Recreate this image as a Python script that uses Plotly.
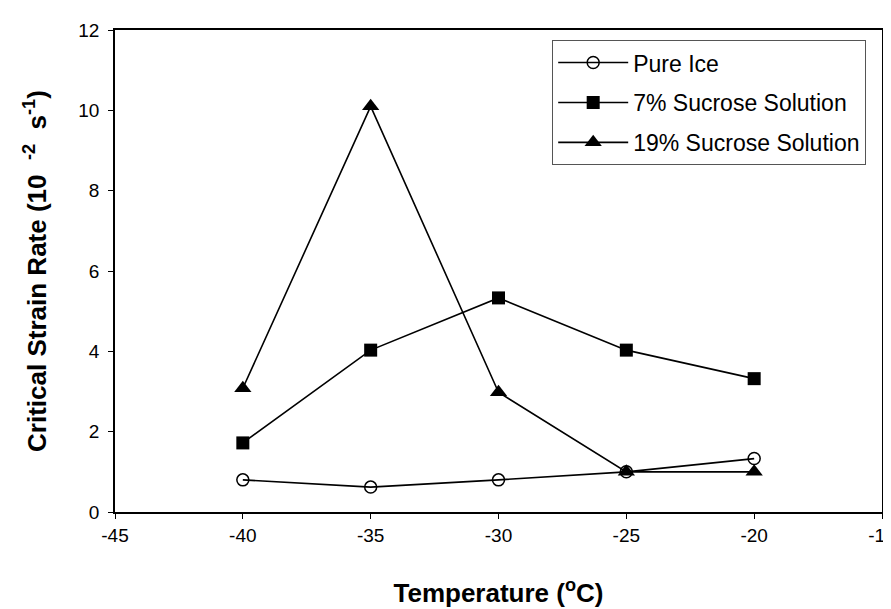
import plotly.graph_objects as go

temps = [-40, -35, -30, -25, -20]
pure_ice = [0.8, 0.62, 0.8, 1.0, 1.33]
sucrose7 = [1.72, 4.03, 5.33, 4.03, 3.32]
sucrose19 = [3.08, 10.1, 2.98, 1.0, 1.0]

x_ticks = [-45, -40, -35, -30, -25, -20, -15]
y_ticks = [0, 2, 4, 6, 8, 10, 12]

FONT = "Liberation Sans, Arial, sans-serif"

fig = go.Figure()
fig.add_trace(go.Scatter(
    x=temps, y=pure_ice, name="Pure Ice", mode="lines+markers",
    line=dict(color="black", width=1.6),
    marker=dict(symbol="circle-open", size=12, color="black", line=dict(width=1.5)),
    legendgroup="a"))
fig.add_trace(go.Scatter(
    x=temps, y=sucrose7, name="7% Sucrose Solution", mode="lines+markers",
    line=dict(color="black", width=1.6),
    marker=dict(symbol="square", size=13, color="black"),
    legendgroup="b"))
fig.add_trace(go.Scatter(
    x=temps, y=sucrose19, name="19% Sucrose Solution", mode="lines+markers",
    line=dict(color="black", width=1.6),
    marker=dict(symbol="triangle-up", size=15, color="black"),
    legendgroup="c"))

fig.update_layout(
    width=891, height=609,
    margin=dict(l=107, r=17, t=22, b=105),
    paper_bgcolor="white", plot_bgcolor="white",
    font=dict(family=FONT, size=19, color="black"),
    showlegend=True,
    legend=dict(
        x=0.57, y=0.979, xanchor="left", yanchor="top",
        bordercolor="#555555", borderwidth=1, bgcolor="white",
        font=dict(size=23, family=FONT),
        traceorder="grouped", tracegroupgap=7, itemwidth=70,
    ),
    xaxis=dict(
        range=[-45, -15], tickvals=x_ticks, ticktext=[str(v) for v in x_ticks],
        showgrid=False, zeroline=False, showline=True, linecolor="black", linewidth=1.5,
        mirror=True, ticks="outside", ticklen=5, tickcolor="black",
        tickfont=dict(size=19), automargin=False,
        title=dict(text="<b>Temperature (<sup>o</sup>C)</b>", font=dict(size=26), standoff=39),
    ),
    yaxis=dict(
        range=[0, 12], tickvals=y_ticks, ticktext=[str(v) for v in y_ticks],
        showgrid=False, zeroline=False, showline=True, linecolor="black", linewidth=1.5,
        mirror=True, ticks="outside", ticklen=5, tickcolor="black",
        tickfont=dict(size=19), automargin=False, ticklabelstandoff=5,
        title=dict(text="<b>Critical Strain Rate (10  <sup>-2</sup>  s<sup>-1</sup>)</b>",
                   font=dict(size=26), standoff=24),
    ),
)

fig.write_html("out.html")
